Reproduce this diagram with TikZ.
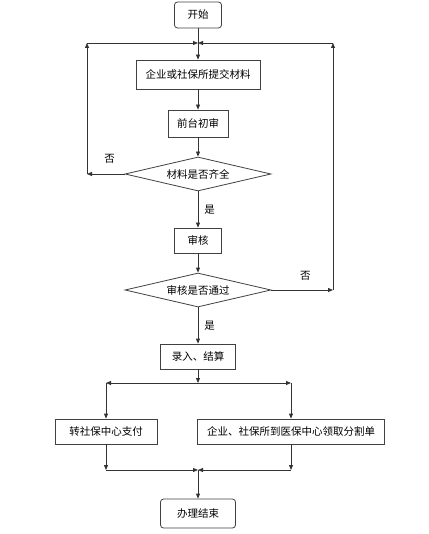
\documentclass[tikz,border=0pt]{standalone}
\usepackage{fontspec}
\setmainfont{Noto Sans CJK SC}
\usetikzlibrary{arrows.meta,shapes.geometric}

\begin{document}
\begin{tikzpicture}[x=1pt,y=-1pt,line width=0.8pt,
  font=\fontsize{10.5}{12}\selectfont,
  box/.style={draw=black!75,rectangle,minimum height=25,inner sep=2pt},
  term/.style={box,rounded corners=3pt},
  test/.style={draw=black!75,diamond,aspect=4.3,inner sep=0pt,minimum width=146,minimum height=34},
  arr/.style={draw=black!80,-{Triangle[length=5pt,width=4pt]}},
  lbl/.style={inner sep=1pt}]
\useasboundingbox (0,0) rectangle (428,534);

% Define the steps.
\node[term,minimum width=47,minimum height=26] (start) at (198,15) {开始};
\node[box,minimum width=124,minimum height=29] (submit) at (198,74.5) {企业或社保所提交材料};
\node[box,minimum width=60,minimum height=27] (init) at (198,123.5) {前台初审};
\node[test] (check) at (198,174) {材料是否齐全};
\node[box,minimum width=47] (review) at (198,240.5) {审核};
\node[test] (pass) at (198,290) {审核是否通过};
\node[box,minimum width=75] (entry) at (198,356.5) {录入、结算};
\node[box,minimum width=102] (pay) at (106,431.5) {转社保中心支付};
\node[box,minimum width=187] (recv) at (291,431.5) {企业、社保所到医保中心领取分割单};
\node[term,minimum width=75,minimum height=29] (finish) at (198,513.5) {办理结束};

% Define the corners of the loops and branches.
\coordinate (top) at (198,43);
\coordinate (topL) at (87,43);
\coordinate (topR) at (333,43);
\coordinate (loopL) at (87,174);
\coordinate (loopR) at (333,290);
\coordinate (split) at (198,383);
\coordinate (splitL) at (106,383);
\coordinate (splitR) at (291,383);
\coordinate (merge) at (198,470);
\coordinate (mergeL) at (106,470);
\coordinate (mergeR) at (291,470);

\draw[draw=black!80] (start) -- (top);
\draw[arr] (top) -- (submit);
\draw[arr] (submit) -- (init);
\draw[arr] (init) -- (check);

\draw[arr] (check) -- node[lbl,pos=0.4,above=9pt]{否} (loopL);
\draw[arr] (loopL) -- (topL);
\draw[arr] (topL) -- (top);

\draw[arr] (check) -- node[lbl,right=5pt]{是} (review);
\draw[arr] (review) -- (pass);

\draw[arr] (pass) -- node[lbl,pos=0.55,above=8pt]{否} (loopR);
\draw[arr] (loopR) -- (topR);
\draw[arr] (topR) -- (top);

\draw[arr] (pass) -- node[lbl,right=5pt]{是} (entry);
\draw[arr] (entry) -- (split);
\draw[arr] (split) -- (splitL);
\draw[arr] (split) -- (splitR);
\draw[arr] (splitL) -- (pay);
\draw[arr] (splitR) -- (recv);

\draw[arr] (pay) -- (mergeL);
\draw[arr] (recv) -- (mergeR);
\draw[arr] (mergeL) -- (merge);
\draw[arr] (mergeR) -- (merge);
\draw[arr] (merge) -- (finish);

\end{tikzpicture}
\end{document}
